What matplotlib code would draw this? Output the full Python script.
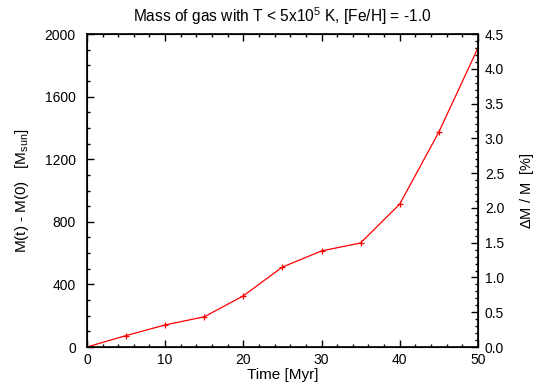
import matplotlib
matplotlib.use("Agg")
import matplotlib.pyplot as plt
from matplotlib.ticker import MultipleLocator

plt.rcParams['font.family'] = ['Liberation Sans', 'DejaVu Sans']
plt.rcParams['font.size'] = 10
plt.rcParams['mathtext.fontset'] = 'custom'
plt.rcParams['mathtext.rm'] = 'Liberation Sans'

# time in Myr and mass difference in Msun
time_myr = [0, 5, 10, 15, 20, 25, 30, 35, 40, 45, 50]
delta_mass = [0, 73, 141, 193, 327, 511, 614, 665, 913, 1373, 1910]

fig = plt.figure(figsize=(5.4, 3.91), dpi=100)
ax = fig.add_axes([0.161, 0.1125, 0.724, 0.8005])

ax.plot(time_myr, delta_mass, color='red', lw=0.9, marker='+', ms=5, mew=0.9)

ax.set_xlim(0, 50)
ax.set_ylim(0, 2000)
ax.xaxis.set_major_locator(MultipleLocator(10))
ax.xaxis.set_minor_locator(MultipleLocator(2))
ax.yaxis.set_major_locator(MultipleLocator(400))
ax.yaxis.set_minor_locator(MultipleLocator(100))
ax.tick_params(which='both', direction='in', top=True, right=False, width=1)
ax.tick_params(which='major', length=5)
ax.tick_params(which='minor', length=2.5)
ax.tick_params(axis='y', pad=8)
ax.tick_params(axis='x', pad=4)
for s in ax.spines.values():
    s.set_linewidth(1.2)

ax.set_xlabel('Time [Myr]', fontsize=11, labelpad=1)
ax.set_ylabel(r'M(t) - M(0)   [M$_{\mathrm{sun}}$]', fontsize=11, labelpad=10)
ax.set_title(r'Mass of gas with T < 5x10$^{\mathrm{5}}$ K, [Fe/H] = -1.0',
             fontsize=11.2, pad=9)

ax2 = ax.twinx()
ax2.set_ylim(0, 4.5)
ax2.yaxis.set_major_locator(MultipleLocator(0.5))
ax2.yaxis.set_minor_locator(MultipleLocator(0.1))
ax2.yaxis.set_major_formatter(plt.FormatStrFormatter('%.1f'))
ax2.tick_params(which='both', direction='in', width=1)
ax2.tick_params(which='major', length=5)
ax2.tick_params(which='minor', length=2.5)
ax2.tick_params(axis='y', pad=5)
ax2.set_ylabel(r'$\Delta$M / M  [%]', fontsize=10.5, labelpad=10)

fig.savefig('out.png', dpi=100)
